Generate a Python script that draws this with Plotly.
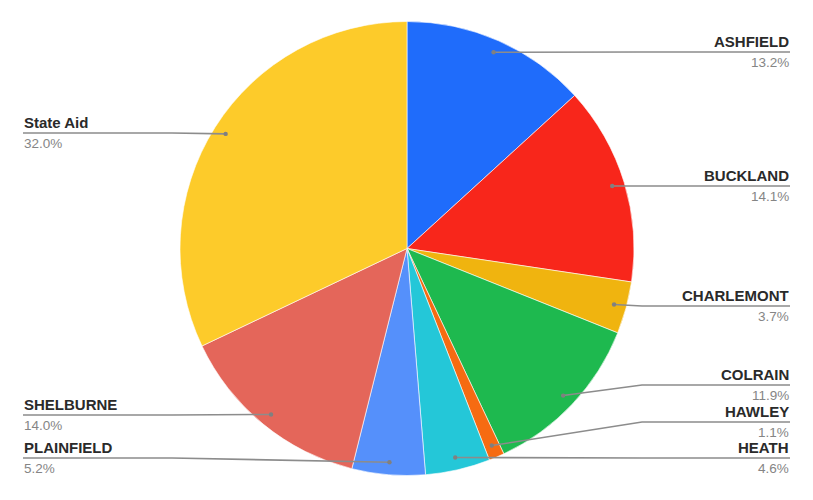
import math
import plotly.graph_objects as go

towns = ["ASHFIELD", "BUCKLAND", "CHARLEMONT", "COLRAIN", "HAWLEY",
         "HEATH", "PLAINFIELD", "SHELBURNE", "State Aid"]
shares = [13.2, 14.1, 3.7, 11.9, 1.1, 4.6, 5.2, 14.0, 32.0]

colors = ["#1f6cfb", "#f8261b", "#f0b40f", "#1eb94f", "#f66b12",
          "#24c7d8", "#5590fb", "#e4665a", "#fdcb2a"]

W, H = 813, 500
cx, cy, r = 407, 248.5, 227

# where each label line sits (pixels), and which side
label_y = [52, 186, 306, 385, 422, 458, 458, 415, 133]
side = ["R", "R", "R", "R", "R", "R", "L", "L", "L"]
right_x, left_x = 790, 23


def px(x):
    return x / W


def py(y):
    return 1 - y / H


fig = go.Figure()
fig.add_trace(go.Pie(
    labels=towns, values=shares, sort=False, direction="clockwise",
    rotation=0, textinfo="none", hoverinfo="label+percent",
    marker=dict(colors=colors, line=dict(color="white", width=0.6)),
    domain=dict(x=[px(cx - r), px(cx + r)], y=[py(cy + r), py(cy - r)]),
    showlegend=False,
))

shapes = []
annotations = []
total = sum(shares)
acc = 0
for name, v, ly, s in zip(towns, shares, label_y, side):
    mid = (acc + v / 2) / total * 2 * math.pi
    acc += v
    dx = cx + 0.945 * r * math.sin(mid)
    dy = cy - 0.945 * r * math.cos(mid)
    if s == "R":
        ex, end, anchor = cx + r + 8, right_x, "right"
    else:
        ex, end, anchor = cx - r - 8, left_x, "left"
    shapes.append(dict(
        type="path", xref="paper", yref="paper", layer="above",
        path=f"M {px(dx)},{py(dy)} L {px(ex)},{py(ly)} L {px(end)},{py(ly)}",
        line=dict(color="#8c8c8c", width=1.6)))
    shapes.append(dict(
        type="circle", xref="paper", yref="paper", layer="above",
        x0=px(dx - 2.2), x1=px(dx + 2.2), y0=py(dy + 2.2), y1=py(dy - 2.2),
        fillcolor="#808080", line=dict(width=0)))
    annotations.append(dict(
        x=px(end), y=py(ly - 1), xref="paper", yref="paper",
        text=f"<b>{name}</b>", showarrow=False, xanchor=anchor, yanchor="bottom",
        borderpad=0,
        font=dict(family="Liberation Sans, Arial", size=15, color="#2a2a2a")))
    annotations.append(dict(
        x=px(end), y=py(ly + 2), xref="paper", yref="paper",
        text=f"{v:.1f}%", showarrow=False, xanchor=anchor, yanchor="top",
        borderpad=0,
        font=dict(family="Liberation Sans, Arial", size=13.5, color="#858585")))

fig.update_layout(
    width=W, height=H,
    margin=dict(l=0, r=0, t=0, b=0),
    paper_bgcolor="white", plot_bgcolor="white",
    shapes=shapes, annotations=annotations,
)

fig.write_html("out.html", config={"displayModeBar": False},
               post_script="document.body.style.margin='0';")
